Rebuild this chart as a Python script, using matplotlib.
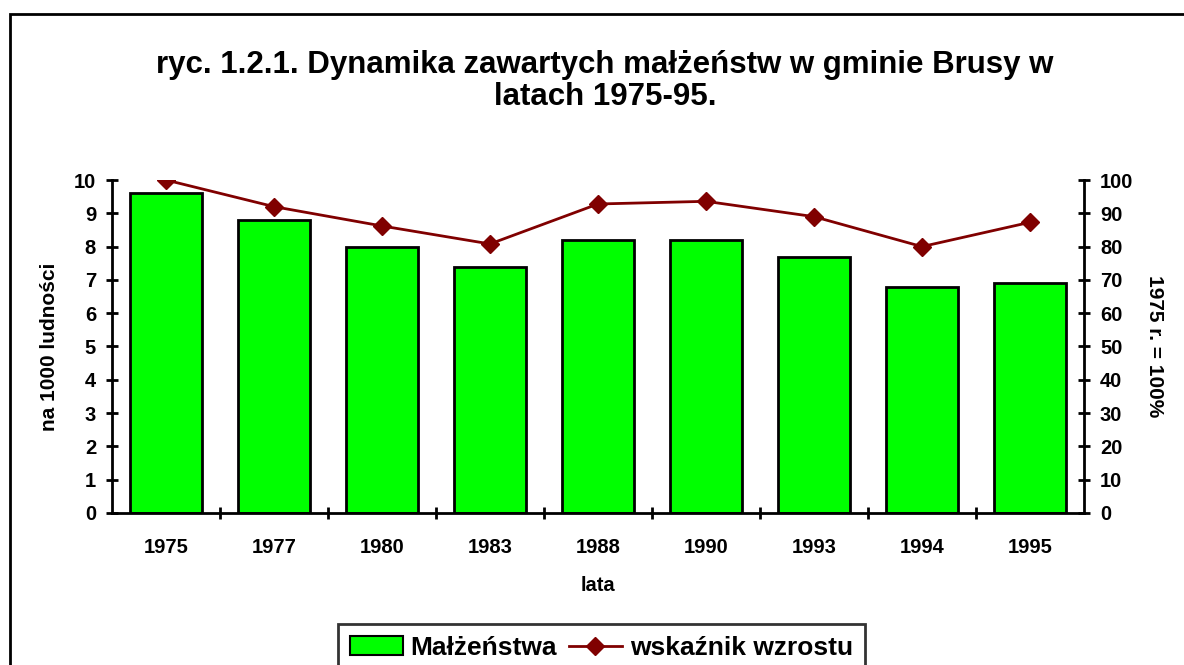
import matplotlib.pyplot as plt
from matplotlib.patches import Rectangle, Patch
from matplotlib.lines import Line2D

years = ["1975", "1977", "1980", "1983", "1988", "1990", "1993", "1994", "1995"]
malzenstwa = [9.6, 8.8, 8.0, 7.4, 8.2, 8.2, 7.7, 6.8, 6.9]
wskaznik = [100, 92, 86.2, 80.8, 92.8, 93.6, 89.0, 80.0, 87.3]

plt.rcParams['font.family'] = ['Liberation Sans', 'DejaVu Sans']
plt.rcParams['font.weight'] = 'bold'

fig = plt.figure(figsize=(11.84, 6.65), dpi=100)
ax = fig.add_axes([0.0946, 0.2286, 0.8209, 0.5007])

x = range(len(years))
ax.bar(x, malzenstwa, width=0.67, color='#00ff00', edgecolor='black', linewidth=2, zorder=2)
ax.set_xlim(-0.5, len(years) - 0.5)
ax.set_ylim(0, 10)
ax.set_yticks(range(0, 11))
ax.set_xticks(list(x))
ax.set_xticklabels(years)
ax.set_xticks([i + 0.5 for i in range(len(years) - 1)], minor=True)
ax.tick_params(axis='x', which='major', length=0, pad=18, labelsize=14.5)
ax.tick_params(axis='x', which='minor', direction='inout', length=9, width=2)
ax.tick_params(axis='y', direction='inout', length=9, width=2, pad=7, labelsize=14.5)
for s in ['top', 'right']:
    ax.spines[s].set_visible(False)
for s in ['left', 'bottom']:
    ax.spines[s].set_linewidth(2)
ax.set_ylabel("na 1000 ludności", fontsize=15, fontweight='bold', labelpad=11)
ax.set_xlabel("lata", fontsize=14.5, fontweight='bold', labelpad=14)

ax2 = ax.twinx()
ax2.plot(list(x), wskaznik, color='#800000', linewidth=2, marker='D', markersize=9)
ax2.set_ylim(0, 100)
ax2.set_yticks(range(0, 101, 10))
ax2.tick_params(axis='y', direction='inout', length=9, width=2, pad=7, labelsize=14.5)
for s in ['top', 'left', 'bottom']:
    ax2.spines[s].set_visible(False)
ax2.spines['right'].set_linewidth(2)
ax2.set_ylabel("1975 r. = 100%", fontsize=15, fontweight='bold', rotation=-90, labelpad=22)

fig.text(0.511, 1 - 81 / 665, "ryc. 1.2.1. Dynamika zawartych małżeństw w gminie Brusy w\nlatach 1975-95.",
         ha='center', va='center', fontsize=22.5, fontweight='bold', linespacing=1.08)

# outer frame, cut off at right and bottom
fig.patches.append(Rectangle((10 / 1184, -0.1), 1.2, 1.1 - 14 / 665, transform=fig.transFigure,
                             fill=False, edgecolor='black', linewidth=2))

handles = [Patch(facecolor='#00ff00', edgecolor='black', linewidth=1.5),
           Line2D([], [], color='#800000', linewidth=2, marker='D', markersize=9)]
leg = fig.legend(handles, ["Małżeństwa", "wskaźnik wzrostu"], loc='upper center',
                 bbox_to_anchor=(0.508, 1 - 624 / 665), ncol=2, frameon=True,
                 fancybox=False, edgecolor='black', handlelength=2.0, handletextpad=0.3,
                 columnspacing=0.45, borderpad=0.45, borderaxespad=0,
                 prop={'weight': 'bold', 'size': 19})
leg.get_frame().set_linewidth(2)

fig.savefig("out.png", dpi=100)
